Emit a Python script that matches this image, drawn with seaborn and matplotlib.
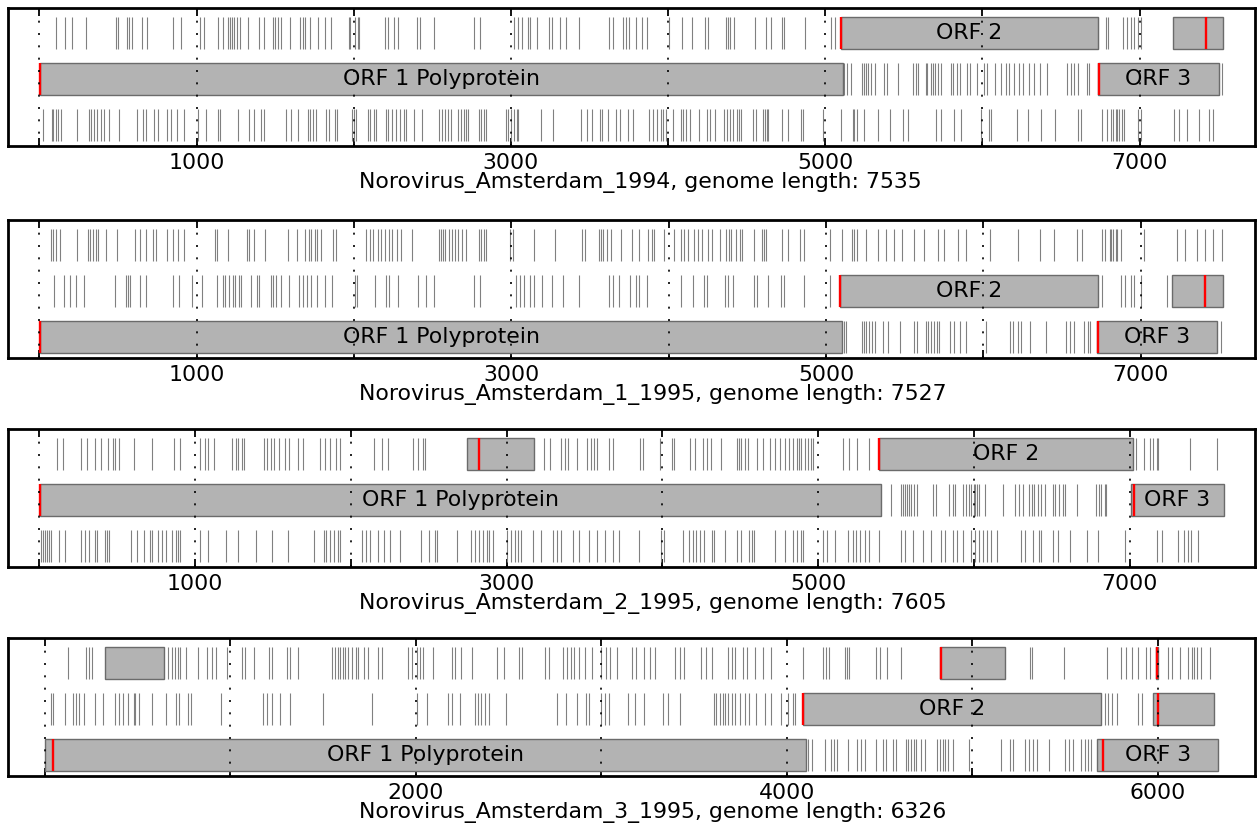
import matplotlib
matplotlib.use('Agg')
import matplotlib.pyplot as plt
from matplotlib.patches import Rectangle
import pandas as pd
import seaborn as sns

# genomes
names = ['Norovirus_Amsterdam_1994', 'Norovirus_Amsterdam_1_1995',
         'Norovirus_Amsterdam_2_1995', 'Norovirus_Amsterdam_3_1995']
lengths = [7535, 7527, 7605, 6326]
shown_ticks = [[1000, 3000, 5000, 7000], [1000, 3000, 5000, 7000],
               [1000, 3000, 5000, 7000], [2000, 4000, 6000]]

# stop codon positions per reading frame row (top, middle, bottom)
p1_top = [104, 161, 210, 299, 486, 503, 560, 571, 586, 650, 684, 853, 900, 1023, 1049, 1138, 1166, 1202,
          1212, 1223, 1236, 1257, 1278, 1325, 1399, 1427, 1484, 1499, 1520, 1537, 1596, 1660, 1679, 1692,
          1724, 1770, 1814, 1856, 1968, 1979, 2008, 2025, 2036, 2199, 2216, 2254, 2280, 2403, 2424, 2509,
          2763, 2805, 3021, 3047, 3068, 3110, 3123, 3165, 3244, 3259, 3314, 3350, 3435, 3625, 3651, 3716,
          3731, 3752, 3794, 3832, 3864, 4006, 4091, 4155, 4236, 4257, 4367, 4382, 4395, 4420, 4552, 4622,
          4654, 4722, 4739, 4873, 5036, 5062, 6737, 6784, 6799, 6896, 6918, 6943, 6964, 6990, 7007]
p1_mid = [5110, 5121, 5138, 5163, 5231, 5244, 5259, 5274, 5291, 5316, 5376, 5393, 5466, 5559, 5576, 5593,
          5640, 5650, 5672, 5687, 5700, 5718, 5735, 5799, 5816, 5841, 5858, 5905, 5922, 5968, 6011, 6028,
          6078, 6117, 6148, 6170, 6201, 6233, 6261, 6297, 6328, 6367, 6413, 6540, 6562, 6583, 6608, 6667,
          6678, 7504, 7526]
p1_bot = [25, 79, 89, 104, 119, 136, 242, 316, 331, 348, 369, 391, 412, 444, 507, 620, 662, 677, 726, 756,
          811, 836, 875, 921, 1006, 1059, 1134, 1151, 1261, 1335, 1363, 1410, 1431, 1569, 1601, 1643, 1711,
          1724, 1739, 1760, 1824, 1845, 1881, 1894, 1987, 2004, 2015, 2089, 2106, 2127, 2142, 2206, 2220,
          2242, 2269, 2297, 2318, 2333, 2381, 2432, 2545, 2559, 2581, 2598, 2619, 2665, 2682, 2699, 2714,
          2725, 2799, 2809, 2831, 2841, 2968, 2979, 3000, 3017, 3038, 3047, 3191, 3271, 3445, 3483, 3519,
          3566, 3577, 3615, 3668, 3695, 3742, 3779, 3879, 3907, 3928, 3958, 3970, 3985, 4034, 4081, 4098,
          4113, 4140, 4197, 4246, 4267, 4297, 4357, 4378, 4395, 4410, 4437, 4452, 4467, 4543, 4558, 4607,
          4616, 4628, 4637, 4728, 4760, 4845, 4856, 4989, 5100, 5174, 5185, 5202, 5248, 5337, 5414, 5492,
          5529, 5705, 5739, 5820, 5862, 5994, 6042, 6057, 6222, 6290, 6371, 6460, 6608, 6625, 6763, 6790,
          6816, 6833, 6848, 6858, 6869, 6890, 6901, 6990, 7007, 7218, 7250, 7299, 7377, 7441, 7468]

p2_top = [72, 84, 102, 128, 238, 307, 320, 338, 358, 371, 422, 494, 609, 640, 678, 721, 742, 813, 849, 883,
          916, 1113, 1126, 1197, 1317, 1330, 1361, 1432, 1581, 1637, 1688, 1714, 1727, 1752, 1765, 1791,
          1867, 1888, 2077, 2098, 2123, 2149, 2169, 2195, 2220, 2238, 2272, 2297, 2366, 2537, 2553, 2563,
          2578, 2604, 2622, 2640, 2660, 2686, 2711, 2793, 2809, 2827, 2839, 2993, 3013, 3146, 3274, 3448,
          3466, 3556, 3568, 3581, 3607, 3632, 3696, 3766, 3810, 3868, 3893, 3906, 3970, 4033, 4079, 4097,
          4122, 4160, 4185, 4211, 4249, 4274, 4325, 4363, 4384, 4394, 4427, 4452, 4465, 4541, 4592, 4605,
          4617, 4719, 4757, 4833, 4859, 5024, 5100, 5163, 5176, 5196, 5252, 5328, 5379, 5430, 5481, 5557,
          5621, 5709, 5748, 5836, 5887, 6045, 6217, 6357, 6446, 6593, 6629, 6751, 6776, 6802, 6814, 6827,
          6840, 6852, 6873, 7018, 7234, 7279, 7360, 7411, 7462, 7518]
p2_mid = [90, 153, 192, 230, 281, 481, 550, 563, 576, 640, 678, 849, 890, 972, 1036, 1126, 1164, 1177,
          1202, 1228, 1241, 1266, 1279, 1343, 1381, 1394, 1471, 1484, 1504, 1535, 1586, 1650, 1675, 1701,
          1727, 1765, 1816, 1862, 2008, 2021, 2136, 2200, 2225, 2277, 2404, 2456, 2507, 2763, 2801, 3031,
          3057, 3082, 3121, 3146, 3197, 3261, 3325, 3428, 3619, 3645, 3684, 3754, 3792, 3810, 3860, 4079,
          4155, 4224, 4241, 4358, 4376, 4409, 4541, 4561, 4630, 4714, 4732, 4859, 5024, 6751, 6878, 6903,
          6941, 6959, 7005, 7170]
p2_bot = [5113, 5125, 5227, 5240, 5252, 5273, 5290, 5308, 5359, 5392, 5468, 5562, 5577, 5633, 5646, 5664,
          5684, 5704, 5715, 5791, 5816, 5849, 5887, 6014, 6167, 6187, 6223, 6238, 6294, 6395, 6527, 6548,
          6573, 6637, 6662, 6680, 7508]

p3_top = [116, 155, 271, 304, 361, 399, 443, 477, 490, 510, 606, 722, 863, 902, 1031, 1062, 1082, 1121,
          1237, 1263, 1276, 1301, 1314, 1443, 1464, 1490, 1508, 1541, 1577, 1603, 1662, 1696, 1804, 1835,
          1868, 1907, 1928, 2152, 2203, 2237, 2397, 2435, 2461, 2479, 3242, 3278, 3350, 3376, 3396, 3453,
          3518, 3543, 3561, 3582, 3659, 3685, 3859, 3877, 3987, 4064, 4075, 4177, 4211, 4262, 4288, 4314,
          4378, 4481, 4493, 4506, 4532, 4553, 4609, 4648, 4691, 4725, 4758, 4789, 4815, 4840, 4866, 4879,
          4892, 4917, 4938, 4956, 4969, 5162, 5200, 5252, 5329, 7038, 7089, 7128, 7153, 7174, 7184, 7385,
          7559]
p3_mid = [5470, 5534, 5547, 5560, 5573, 5586, 5599, 5617, 5632, 5740, 5760, 5838, 5863, 5881, 5933, 5951,
          5966, 5984, 6002, 6010, 6023, 6035, 6069, 6190, 6267, 6292, 6318, 6352, 6370, 6388, 6413, 6434,
          6459, 6506, 6524, 6549, 6575, 6588, 6660, 6781, 6806, 6819, 6840, 6850]
p3_bot = [13, 26, 39, 52, 64, 77, 129, 168, 271, 296, 322, 361, 374, 425, 433, 451, 588, 631, 670, 709,
          722, 760, 786, 812, 850, 876, 889, 902, 1031, 1082, 1198, 1276, 1392, 1495, 1598, 1765, 1830,
          1843, 1868, 1894, 1920, 1933, 2074, 2100, 2126, 2178, 2216, 2255, 2319, 2448, 2500, 2538, 2551,
          2680, 2770, 2796, 2822, 2848, 2873, 2886, 2912, 3002, 3028, 3054, 3072, 3092, 3170, 3221, 3299,
          3324, 3350, 3427, 3466, 3530, 3582, 3634, 3685, 3724, 3851, 3992, 4013, 4134, 4172, 4198, 4218,
          4244, 4270, 4321, 4332, 4403, 4481, 4506, 4558, 4578, 4589, 4725, 4789, 4840, 4866, 4892, 4905,
          5033, 5059, 5110, 5195, 5226, 5246, 5272, 5303, 5324, 5393, 5534, 5560, 5611, 5676, 5727, 5791,
          5817, 5868, 5894, 5933, 5984, 6010, 6035, 6061, 6087, 6113, 6146, 6305, 6331, 6382, 6421, 6434,
          6506, 6537, 6614, 6729, 6794, 6973, 7174, 7205, 7313, 7346, 7372, 7397, 7436]

p4_top = [123, 223, 238, 253, 665, 682, 700, 715, 726, 758, 823, 873, 899, 921, 981, 1061, 1077, 1126,
          1206, 1224, 1306, 1321, 1365, 1549, 1566, 1581, 1592, 1609, 1618, 1635, 1657, 1679, 1689, 1722,
          1739, 1798, 1819, 1960, 1978, 2004, 2021, 2036, 2090, 2194, 2209, 2242, 2302, 2437, 2476, 2556,
          2571, 2697, 2718, 2794, 2816, 2837, 2853, 2881, 2913, 2952, 3000, 3026, 3048, 3087, 3166, 3188,
          3231, 3264, 3292, 3400, 3422, 3448, 3535, 3567, 3599, 3686, 3703, 3719, 3762, 3784, 3827, 3870,
          3913, 4087, 4195, 4210, 4227, 4314, 4325, 4336, 4483, 4504, 4541, 4617, 5310, 5321, 5494, 5726,
          5803, 5829, 5862, 5894, 5938, 5959, 6057, 6078, 6122, 6165, 6186, 6197, 6215, 6236, 6284]
p4_mid = [32, 43, 108, 152, 167, 184, 210, 271, 310, 379, 396, 422, 448, 477, 487, 505, 574, 650, 704,
          721, 769, 786, 947, 1176, 1198, 1224, 1267, 1321, 1501, 1761, 2004, 2058, 2172, 2194, 2237, 2318,
          2333, 2350, 2372, 2393, 2484, 2762, 2809, 2870, 2918, 2935, 3000, 3022, 3043, 3145, 3184, 3231,
          3335, 3361, 3422, 3610, 3621, 3638, 3654, 3669, 3686, 3703, 3719, 3747, 3773, 3794, 3833, 3881,
          3913, 3968, 4006, 4032, 4043, 5717, 5732, 5754, 5782, 5894, 5916]
p4_bot = [4115, 4136, 4206, 4238, 4253, 4271, 4331, 4379, 4401, 4422, 4483, 4520, 4535, 4574, 4591, 4643,
          4656, 4671, 4686, 4699, 4725, 4747, 4808, 4829, 4844, 4855, 4872, 4898, 4985, 5158, 5206, 5223,
          5284, 5305, 5331, 5349, 5414, 5500, 5522, 5544, 5587, 5609, 5624, 5639]

# open reading frames: (row, box start, box end, start codon, label)
p1_orfs = [(1, 5, 5110, 5, 'ORF 1 Polyprotein'), (0, 5100, 6737, 5100, 'ORF 2'),
           (1, 6735, 7504, 6742, 'ORF 3'), (0, 7212, 7532, 7420, '')]
p2_orfs = [(2, 5, 5100, 5, 'ORF 1 Polyprotein'), (1, 5087, 6731, 5087, 'ORF 2'),
           (2, 6720, 7487, 6731, 'ORF 3'), (1, 7200, 7526, 7406, '')]
p3_orfs = [(1, 5, 5401, 5, 'ORF 1 Polyprotein'), (0, 5393, 7020, 5393, 'ORF 2'),
           (1, 7010, 7603, 7030, 'ORF 3'), (0, 2744, 3175, 2822, '')]
p4_orfs = [(2, 0, 4102, 43, 'ORF 1 Polyprotein'), (1, 4087, 5695, 4087, 'ORF 2'),
           (2, 5674, 6327, 5704, 'ORF 3'), (0, 325, 643, None, ''),
           (0, 4829, 5176, 4834, ''), (1, 5977, 6306, 6003, ''), (0, 5992, 6000, 5998, '')]

stops = [(p1_top, p1_mid, p1_bot), (p2_top, p2_mid, p2_bot),
         (p3_top, p3_mid, p3_bot), (p4_top, p4_mid, p4_bot)]
orfs = [p1_orfs, p2_orfs, p3_orfs, p4_orfs]

sns.set_style('white')
plt.rcParams['font.family'] = ['DejaVu Sans']
plt.rcParams['text.color'] = 'black'
plt.rcParams['axes.labelcolor'] = 'black'
plt.rcParams['xtick.color'] = 'black'
fs = 15.8

fig = plt.figure(figsize=(12.58, 8.31), dpi=100)
# panel bottoms in pixels from top: 146, 358, 567, 776
bottoms = [(831 - 146) / 831, (831 - 358) / 831, (831 - 567) / 831, (831 - 776) / 831]
ax_h = 138 / 831

# row r (0 = top) spans y in [2-r+0.1, 2-r+0.8]
def row_lo(r):
    return 2 - r + 0.1

row_h = 0.7
row_pts = row_h / 3 * ax_h * 8.31 * 72

for i in range(4):
    L = lengths[i]
    ax = fig.add_axes([0.00636, bottoms[i], 0.9913, ax_h])
    ax.set_xlim(-200, L + 200)
    ax.set_ylim(0, 3)

    # stop codons
    rows = []
    for r, pos in enumerate(stops[i]):
        for p in pos:
            rows.append({'pos': p, 'y': row_lo(r) + row_h / 2})
    df = pd.DataFrame(rows)
    sns.scatterplot(data=df, x='pos', y='y', marker='|', s=row_pts ** 2, color='0.5',
                    linewidth=0.8, ax=ax, legend=False, zorder=2)

    # ORF boxes and start codons
    for r, a, b, st, lab in orfs[i]:
        ax.add_patch(Rectangle((a, row_lo(r)), b - a, row_h, facecolor='#b3b3b3',
                               edgecolor='0.42', linewidth=1.0, zorder=3))
        if st is not None:
            ax.vlines(st, row_lo(r), row_lo(r) + row_h, color='red', linewidth=1.7, zorder=4)
        if lab:
            ax.text((a + b) / 2, row_lo(r) + row_h / 2, lab, ha='center', va='center',
                    fontsize=fs, color='black', zorder=6)

    # dotted grid every 1000
    for g in range(0, L, 1000):
        ax.axvline(g, color='k', linewidth=1.2, dashes=(1.2, 6.2), zorder=5)

    ticks = list(range(0, L, 1000))
    ax.set_xticks(ticks)
    ax.set_xticklabels([str(t) if t in shown_ticks[i] else '' for t in ticks])
    ax.set_yticks([])
    ax.tick_params(axis='x', direction='in', top=True, bottom=True, length=6, width=1.3,
                   labelsize=fs, pad=5, color='k', labelcolor='k')
    for s in ax.spines.values():
        s.set_linewidth(2.0)
        s.set_color('k')

    ax.set_xlabel('%s, genome length: %d' % (names[i], L), fontsize=fs, ha='left', va='top')
    ax.xaxis.set_label_coords(0.2815, -0.185)
    ax.set_ylabel('')

fig.savefig('out.png', dpi=100)
